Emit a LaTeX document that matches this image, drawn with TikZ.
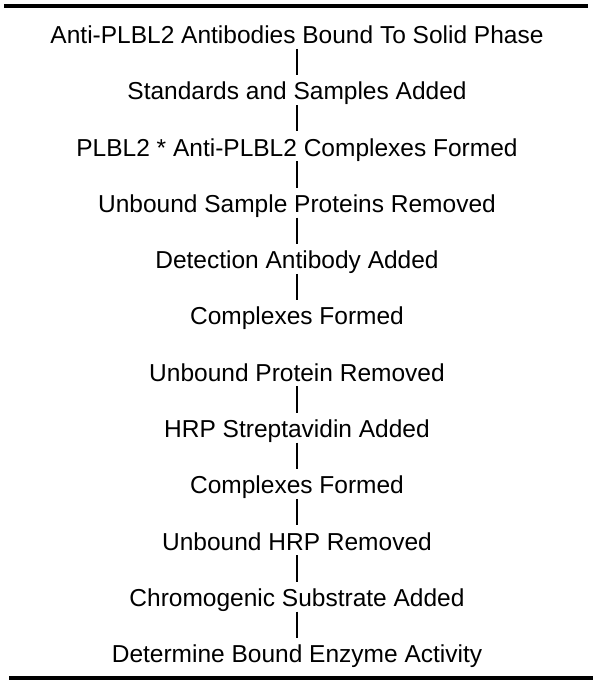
\documentclass[tikz,border=0pt]{standalone}
\usepackage{fontspec}
\setmainfont{Liberation Sans}
\begin{document}
\begin{tikzpicture}[x=1pt,y=-1pt,
  stepbox/.style={inner xsep=0pt,inner ysep=0pt,text height=17.5pt,text depth=0pt,
    font=\fontsize{24.5}{29}\selectfont},
  conn/.style={line width=1.4pt,shorten <=5pt,shorten >=7pt},
  rulebar/.style={line width=4.5pt}]
\useasboundingbox (0,0) rectangle (600,685);
\coordinate (r1a) at (4,6);
\coordinate (r1b) at (588,6);
\coordinate (r2a) at (9,678);
\coordinate (r2b) at (593,678);
\draw[rulebar] (r1a) -- (r1b);
\draw[rulebar] (r2a) -- (r2b);
\foreach \n/\t [count=\i from 0] in {
  s1/Anti-PLBL2 Antibodies Bound To Solid Phase,
  s2/Standards and Samples Added,
  s3/PLBL2 * Anti-PLBL2 Complexes Formed,
  s4/Unbound Sample Proteins Removed,
  s5/Detection Antibody Added,
  s6/Complexes Formed,
  s7/Unbound Protein Removed,
  s8/HRP Streptavidin Added,
  s9/Complexes Formed,
  s10/Unbound HRP Removed,
  s11/Chromogenic Substrate Added,
  s12/Determine Bound Enzyme Activity}
  \node[stepbox,anchor=south] (\n) at (297,{43.8+56.27*\i}) {\t};
\foreach \a/\b in {s1/s2,s2/s3,s3/s4,s4/s5,s5/s6,s7/s8,s8/s9,s9/s10,s10/s11,s11/s12}
  \draw[conn] (\a.south) -- (\b.north);
\end{tikzpicture}
\end{document}
